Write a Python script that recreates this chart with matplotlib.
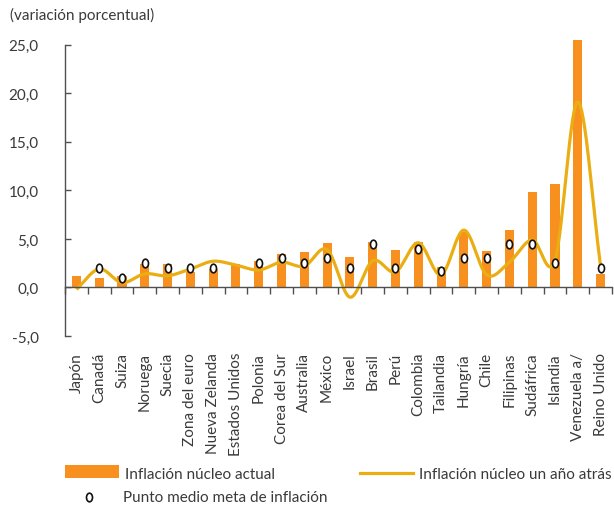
import numpy as np
import matplotlib
matplotlib.use("Agg")
import matplotlib.pyplot as plt
from matplotlib.patches import Rectangle
from matplotlib.lines import Line2D
from matplotlib.path import Path
from matplotlib.transforms import blended_transform_factory, Affine2D

plt.rcParams['font.family'] = ['Lato', 'DejaVu Sans']

categories = ["Japón", "Canadá", "Suiza", "Noruega", "Suecia", "Zona del euro",
              "Nueva Zelanda", "Estados Unidos", "Polonia", "Corea del Sur",
              "Australia", "México", "Israel", "Brasil", "Perú", "Colombia",
              "Tailandia", "Hungría", "Chile", "Filipinas", "Sudáfrica",
              "Islandia", "Venezuela a/", "Reino Unido"]
core_now = [1.2, 0.95, 1.2, 2.4, 2.4, 1.6, 1.9, 2.4, 2.7, 3.4, 3.6, 4.6,
            3.1, 4.7, 3.9, 4.7, 2.1, 5.7, 3.75, 5.9, 9.85, 10.7, 25.5, 1.4]
core_year_ago = [-0.2, 1.9, 0.5, 1.4, 1.2, 1.9, 2.7, 2.3, 1.8, 2.6, 2.2, 3.9,
                 -1.0, 2.75, 1.6, 4.6, 1.3, 5.9, 1.3, 2.6, 4.9, 2.8, 19.1, 2.2]
target_mid = [np.nan, 2.0, 1.0, 2.5, 2.0, 2.0, 2.0, np.nan, 2.5, 3.0, 2.5, 3.0,
              2.0, 4.5, 2.0, 4.0, 1.7, 3.0, 3.0, 4.5, 4.5, 2.5, np.nan, 2.0]
yticks = [-5, 0, 5, 10, 15, 20, 25]
title = "(variación porcentual)"
legend_labels = ["Inflación núcleo actual", "Inflación núcleo un año atrás",
                 "Punto medio meta de inflación"]

BAR = "#F7901E"
LINE = "#EBAE12"
TXT = "#3a3a3a"
AX = "#505050"

ELLIPSE = Path.unit_circle().transformed(Affine2D().scale(0.7, 1.0))
MK = dict(linestyle='none', marker=ELLIPSE, markersize=6.2,
          markerfacecolor='white', markeredgecolor='#111111',
          markeredgewidth=1.2)

W, H = 614, 510
fig = plt.figure(figsize=(W / 100, H / 100), dpi=100)
ax = fig.add_axes([65 / W, 1 - 337 / H, 547 / W, (337 - 45.7) / H])

x = np.arange(len(categories))
ax.bar(x, core_now, width=0.4, color=BAR, zorder=2, clip_on=False)


def catmull_rom(xs, ys, n=30):
    xs = np.asarray(xs, float)
    ys = np.asarray(ys, float)
    px = np.concatenate([[2 * xs[0] - xs[1]], xs, [2 * xs[-1] - xs[-2]]])
    py = np.concatenate([[2 * ys[0] - ys[1]], ys, [2 * ys[-1] - ys[-2]]])
    outx, outy = [], []
    t = np.linspace(0, 1, n, endpoint=False)
    for i in range(1, len(px) - 2):
        for p, out in ((px, outx), (py, outy)):
            p0, p1, p2, p3 = p[i - 1], p[i], p[i + 1], p[i + 2]
            out.append(0.5 * ((2 * p1) + (-p0 + p2) * t +
                              (2 * p0 - 5 * p1 + 4 * p2 - p3) * t ** 2 +
                              (-p0 + 3 * p1 - 3 * p2 + p3) * t ** 3))
    outx.append([xs[-1]])
    outy.append([ys[-1]])
    return np.concatenate(outx), np.concatenate(outy)


sx, sy = catmull_rom(x, core_year_ago)
ax.plot(sx, sy, color=LINE, lw=2.3, zorder=3, solid_capstyle='butt')
ax.plot(x, target_mid, zorder=4, **MK)

ax.set_xlim(-0.5, len(categories) - 0.5)
ax.set_ylim(-5, 25)

for s in ['top', 'right']:
    ax.spines[s].set_visible(False)
ax.spines['left'].set_color(AX)
ax.spines['left'].set_linewidth(1.0)
ax.spines['bottom'].set_position(('data', 0))
ax.spines['bottom'].set_color(AX)
ax.spines['bottom'].set_linewidth(1.0)
ax.spines['bottom'].set_zorder(5)

ax.set_yticks(yticks)
ax.set_yticklabels([f"{v:.1f}".replace('.', ',') for v in yticks])
ax.tick_params(axis='y', direction='in', length=4, width=1, color=AX,
               pad=19, labelsize=11, labelcolor=TXT)
ax.set_xticks(np.arange(-0.5, len(categories), 1.0))
ax.set_xticklabels([])
ax.tick_params(axis='x', direction='out', length=5, width=1, color=AX)

trans = blended_transform_factory(ax.transData, fig.transFigure)
for i, c in enumerate(categories):
    ax.text(i, 1 - 353 / H, c, transform=trans, rotation=90, ha='center',
            va='top', fontsize=11, color=TXT)

fig.text(10 / W, 1 - 15 / H, title, ha='left', va='center', fontsize=11,
         color=TXT)

# legend
fig.add_artist(Rectangle((65 / W, 1 - 479 / H), 54 / W, 13 / H,
                         transform=fig.transFigure, facecolor=BAR,
                         edgecolor='none'))
fig.text(125 / W, 1 - 475 / H, legend_labels[0], ha='left', va='center',
         fontsize=11, color=TXT)
fig.add_artist(Line2D([360 / W, 413 / W], [1 - 474 / H, 1 - 474 / H],
                      transform=fig.transFigure, color=LINE, lw=2.3))
fig.text(419 / W, 1 - 475 / H, legend_labels[1], ha='left', va='center',
         fontsize=11, color=TXT)
fig.add_artist(Line2D([89 / W], [1 - 498 / H], transform=fig.transFigure,
                      **MK))
fig.text(123 / W, 1 - 498 / H, legend_labels[2], ha='left', va='center',
         fontsize=11, color=TXT)

fig.savefig("out.png", dpi=100)
